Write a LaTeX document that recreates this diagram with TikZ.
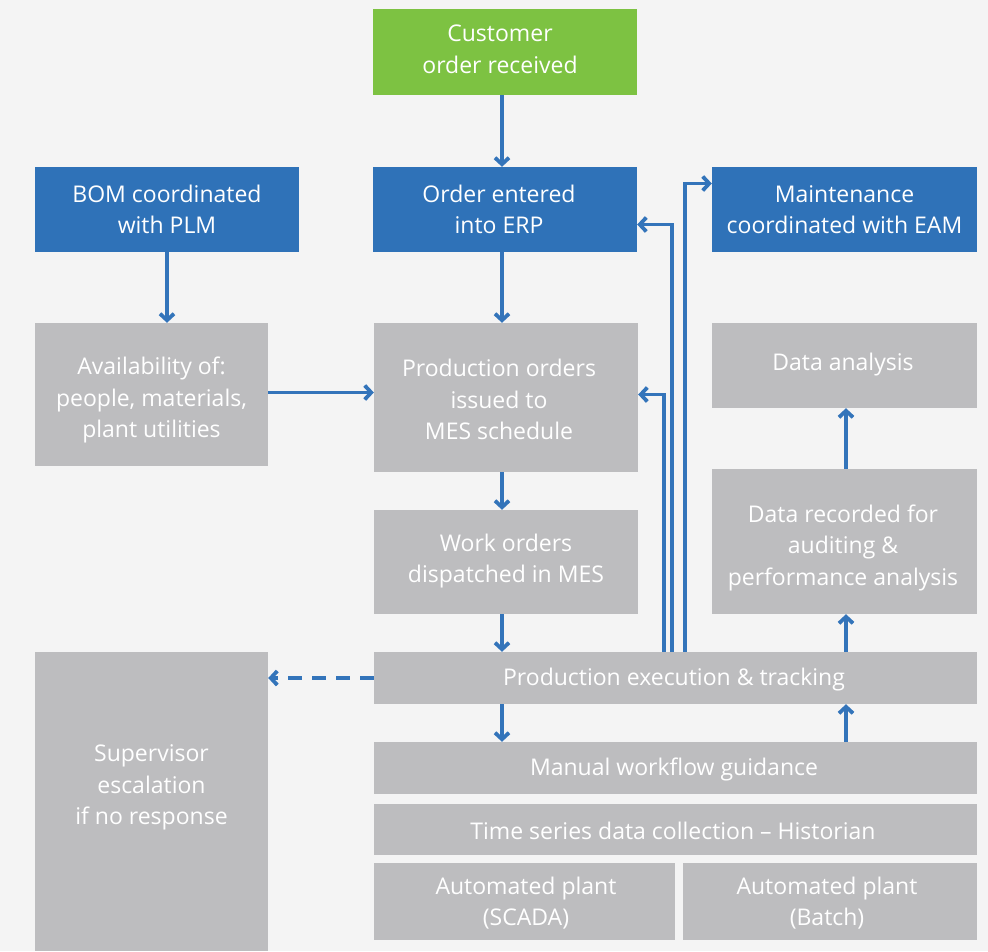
\documentclass[tikz,border=0pt]{standalone}
\usepackage{fontspec}
\setmainfont{Open Sans}
\usetikzlibrary{arrows.meta,calc}
\definecolor{bg}{HTML}{F4F4F4}
\definecolor{gebox}{HTML}{2F72B8}
\definecolor{gegreen}{HTML}{7DC242}
\definecolor{gegray}{HTML}{BDBDBF}
\definecolor{garrow}{HTML}{3374BA}
\tikzset{
  boxbase/.style={inner sep=0pt, align=center, text=white, font=\fontsize{23}{31.5}\selectfont},
  bluebox/.style={boxbase, fill=gebox},
  greenbox/.style={boxbase, fill=gegreen},
  graybox/.style={boxbase, fill=gegray},
  txt/.style={align=center, text=white, font=\fontsize{23}{31.5}\selectfont, inner sep=0pt},
  arr/.style={draw=garrow, line width=3.8pt, -{Straight Barb[length=6.5pt,width=14pt]}},
  dasharr/.style={arr, dash pattern=on 14pt off 10pt}
}
\begin{document}
\begin{tikzpicture}[x=1pt,y=-1pt]
\fill[bg] (0,0) rectangle (988,951);
\useasboundingbox (0,0) rectangle (988,951);

\node[greenbox, minimum width=264pt, minimum height=86pt] (cust) at (505,52) {};
\node[txt] (custtxt) at (500,49.5) {Customer\\order received};
\node[bluebox, minimum width=264pt, minimum height=85pt] (bom) at (167,209.5) {};
\node[txt] (bomtxt) at (167,209.5) {BOM coordinated\\with PLM};
\node[bluebox, minimum width=264pt, minimum height=85pt] (erp) at (505,209.5) {};
\node[txt] (erptxt) at (499,209.5) {Order entered\\into ERP};
\node[bluebox, minimum width=265pt, minimum height=85pt] (maint) at (844.5,209.5) {Maintenance\\coordinated with EAM};
\node[graybox, minimum width=233pt, minimum height=143pt] (avail) at (151.5,394.5) {};
\node[txt] (availtxt) at (151.5,400) {Availability of:\\people, materials,\\plant utilities};
\node[graybox, minimum width=264pt, minimum height=149pt] (prod) at (506,397.5) {};
\node[txt] (prodtxt) at (499,399.5) {Production orders\\issued to\\MES schedule};
\node[graybox, minimum width=265pt, minimum height=85pt] (anal) at (844.5,365.5) {};
\node[txt] (analtxt) at (843,364.5) {Data analysis};
\node[graybox, minimum width=264pt, minimum height=104pt] (work) at (506,562) {};
\node[txt] (worktxt) at (506,561) {Work orders\\dispatched in MES};
\node[graybox, minimum width=265pt, minimum height=145pt] (rec) at (844.5,541.5) {};
\node[txt] (rectxt) at (843,547.5) {Data recorded for\\auditing \&\\performance analysis};
\node[graybox, minimum width=233pt, minimum height=299pt] (sup) at (151.5,801.5) {};
\node[txt] (suptxt) at (151.5,787.5) {Supervisor\\escalation\\if no response};
\node[graybox, minimum width=603pt, minimum height=52pt] (exec) at (675.5,678) {};
\node[txt] (exectxt) at (674,679.5) {Production execution \& tracking};
\node[graybox, minimum width=603pt, minimum height=52pt] (man) at (675.5,768) {};
\node[txt] (mantxt) at (674,769) {Manual workflow guidance};
\node[graybox, minimum width=603pt, minimum height=51pt] (ts) at (675.5,829.5) {};
\node[txt] (tstxt) at (673,831) {Time series data collection – Historian};
\node[graybox, minimum width=301pt, minimum height=77pt] (scada) at (524.5,901.5) {};
\node[txt] (scadatxt) at (526,903) {Automated plant\\(SCADA)};
\node[graybox, minimum width=294pt, minimum height=77pt] (batch) at (830,901.5) {};
\node[txt] (batchtxt) at (827,903) {Automated plant\\(Batch)};

\coordinate (xa) at (502,0);
\coordinate (xb) at (846,0);

\draw[arr] (cust.south -| xa) -- (erp.north -| xa);
\draw[arr] (bom.south) -- (avail.north -| bom.south);
\draw[arr] (erp.south -| xa) -- (prod.north -| xa);
\draw[arr] ($(avail.east)+(0,-2)$) -- ($(avail.east -| prod.west)+(0,-2)$);
\draw[arr] (prod.south -| xa) -- (work.north -| xa);
\draw[arr] (work.south -| xa) -- (exec.north -| xa);
\draw[arr] (exec.south -| xa) -- (man.north -| xa);
\draw[arr] (man.north -| xb) -- (exec.south -| xb);
\draw[arr] (exec.north -| xb) -- (rec.south -| xb);
\draw[arr] (rec.north -| xb) -- (anal.south -| xb);
\draw[dasharr] (exec.west) -- (exec.west -| sup.east);

\draw[arr] ($(exec.north west)+(290,0)$) |- ($(prod.east)+(0,-3)$);
\draw[arr] ($(exec.north west)+(298,0)$) |- ($(erp.east)+(0,15)$);
\draw[arr] ($(exec.north west)+(311,0)$) |- ($(maint.west)+(0,-26)$);
\end{tikzpicture}
\end{document}
